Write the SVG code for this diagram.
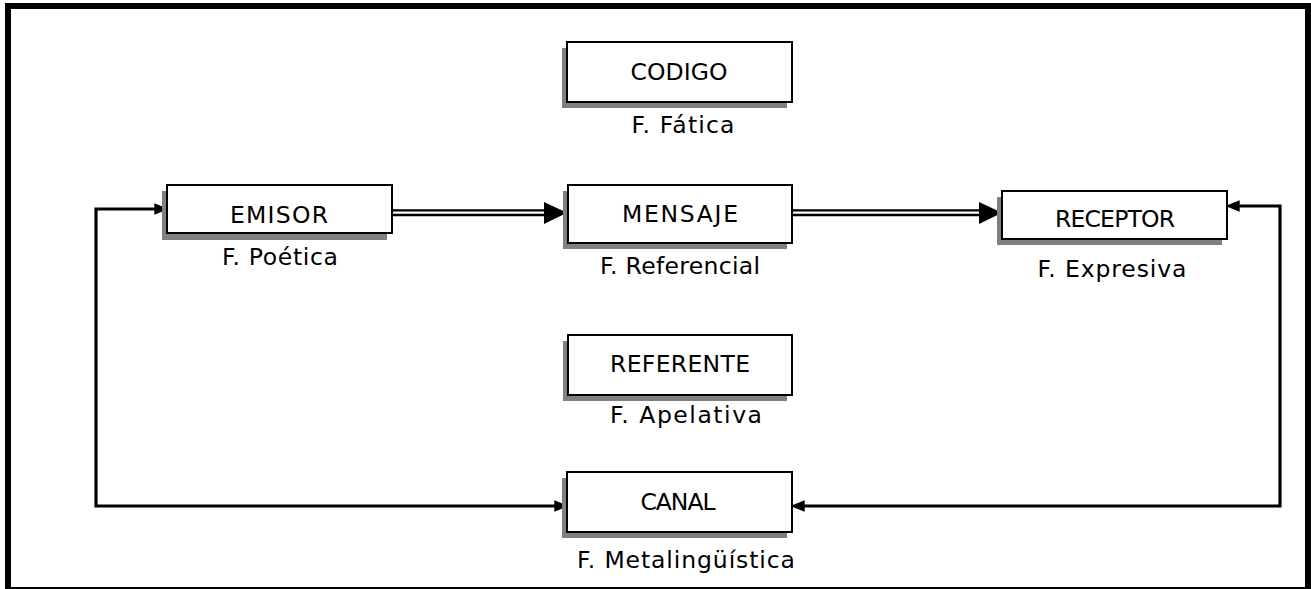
<svg xmlns="http://www.w3.org/2000/svg" width="1311" height="589" viewBox="0 0 1311 589">
<style>
.box{fill:#fff;stroke:#000;stroke-width:2}
.sh{fill:#808080}
.t{font-family:"DejaVu Sans","Liberation Sans",sans-serif;font-size:23.5px;fill:#000;text-anchor:middle}
.fb{fill:none;stroke:#000;stroke-width:3.2;stroke-linejoin:miter}
</style>
<defs>
<marker id="ah" markerUnits="userSpaceOnUse" markerWidth="14" markerHeight="12" viewBox="0 0 12 10" refX="4" refY="5" orient="auto-start-reverse">
<path d="M0,0 L12,5 L0,10 Z" fill="#000"/>
</marker>
</defs>
<rect width="1311" height="589" fill="#fff"/>
<g id="frame">
<rect x="5" y="3" width="1306" height="6" fill="#000"/>
<rect x="5" y="3" width="6" height="586" fill="#000"/>
<rect x="1305" y="3" width="6" height="586" fill="#000"/>
<rect x="5" y="587" width="1306" height="2" fill="#000"/>
</g>
<g id="connectors">
<path d="M392,212.7 H545" stroke="#000" stroke-width="7" fill="none"/>
<path d="M392,212.7 H546" stroke="#fff" stroke-width="2.2" fill="none"/>
<polygon points="544,202 567,212.7 544,224" fill="#000"/>
<path d="M792,212.7 H980" stroke="#000" stroke-width="7" fill="none"/>
<path d="M792,212.7 H981" stroke="#fff" stroke-width="2.2" fill="none"/>
<polygon points="979,202 1002,212.7 979,224" fill="#000"/>
<path class="fb" d="M159,209 H96 V506 H559" marker-start="url(#ah)" marker-end="url(#ah)"/>
<path class="fb" d="M1235,206 H1280 V506 H800" marker-start="url(#ah)" marker-end="url(#ah)"/>
</g>
<g id="codigo">
<rect class="sh" x="562" y="48" width="225" height="60"/>
<rect class="box" x="567" y="42" width="225" height="60"/>
<text class="t" x="679" y="80" textLength="97">CODIGO</text>
<text class="t" x="683" y="133" textLength="103">F. Fática</text>
</g>
<g id="emisor">
<rect class="sh" x="162" y="191" width="225" height="49"/>
<rect class="box" x="167" y="185" width="225" height="48"/>
<text class="t" x="279" y="223" textLength="98">EMISOR</text>
<text class="t" x="280" y="265" textLength="116">F. Poética</text>
</g>
<g id="mensaje">
<rect class="sh" x="563" y="191" width="224" height="58"/>
<rect class="box" x="568" y="185" width="224" height="58"/>
<text class="t" x="680" y="222" textLength="116">MENSAJE</text>
<text class="t" x="680" y="274" textLength="160">F. Referencial</text>
</g>
<g id="receptor">
<rect class="sh" x="997" y="197" width="225" height="48"/>
<rect class="box" x="1002" y="191" width="225" height="48"/>
<text class="t" x="1115" y="227" textLength="120">RECEPTOR</text>
<text class="t" x="1112" y="277" textLength="149">F. Expresiva</text>
</g>
<g id="referente">
<rect class="sh" x="563" y="341" width="224" height="60"/>
<rect class="box" x="568" y="335" width="224" height="60"/>
<text class="t" x="680" y="372" textLength="140">REFERENTE</text>
<text class="t" x="686" y="423" textLength="152">F. Apelativa</text>
</g>
<g id="canal">
<rect class="sh" x="562" y="478" width="225" height="60"/>
<rect class="box" x="567" y="472" width="225" height="60"/>
<text class="t" x="678" y="510" textLength="75">CANAL</text>
<text class="t" x="686" y="568" textLength="218">F. Metalingüística</text>
</g>
</svg>
